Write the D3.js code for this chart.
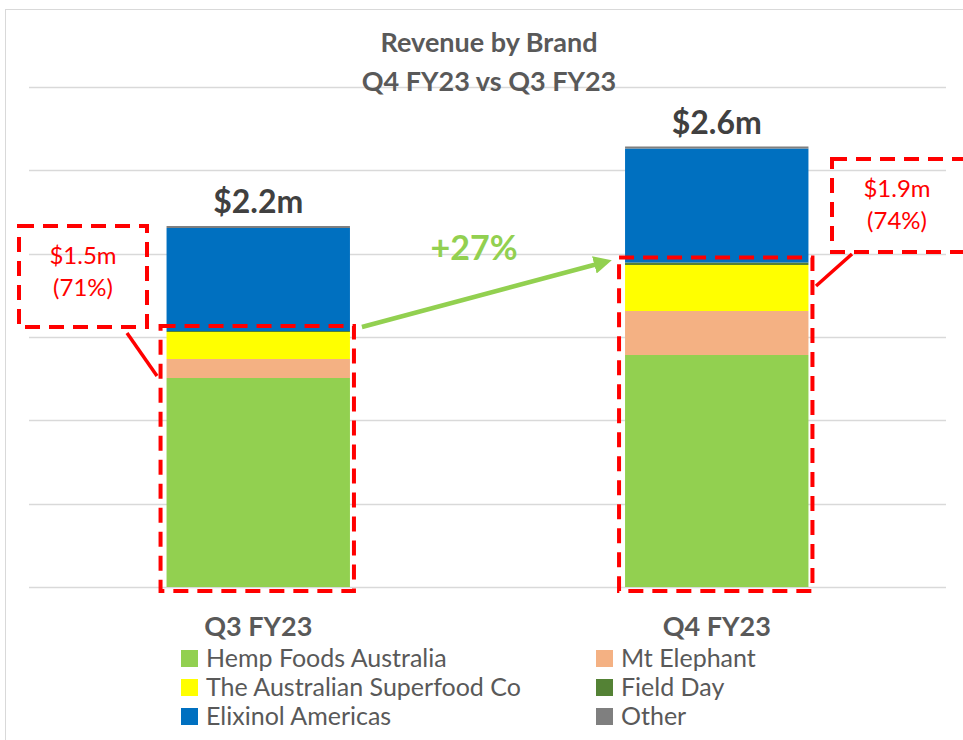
<!DOCTYPE html>
<html>
<head>
<meta charset="utf-8">
<script src="https://cdn.jsdelivr.net/npm/d3@7"></script>
<style>
  body { margin: 0; background: #fff; }
  svg { display: block; font-family: Lato, "Open Sans", sans-serif; }
</style>
</head>
<body>
<div id="chart"></div>
<script>
const width = 963;
const height = 740;

// data
const quarters = ["Q3 FY23", "Q4 FY23"];
const brands = ["Hemp Foods Australia", "Mt Elephant", "The Australian Superfood Co", "Field Day", "Elixinol Americas", "Other"];
const brandColors = ["#92D050", "#F4B183", "#FFFF00", "#548235", "#0070C0", "#7F7F7F"];
const hempFoods = [1.254, 1.392];
const mtElephant = [0.114, 0.264];
const superfood = [0.162, 0.276];
const fieldDay = [0.006, 0.015];
const elixinol = [0.618, 0.684];
const other = [0.012, 0.012];
const totalLabels = ["$2.2m", "$2.6m"];
const ausLabels = [["$1.5m", "(71%)"], ["$1.9m", "(74%)"]];
const growthLabel = "+27%";
const yTicks = [0, 0.5, 1, 1.5, 2, 2.5, 3];
const legendOrder = ["Hemp Foods Australia", "Mt Elephant", "The Australian Superfood Co", "Field Day", "Elixinol Americas", "Other"];

const rows = quarters.map((q, i) => ({
  quarter: q,
  "Hemp Foods Australia": hempFoods[i],
  "Mt Elephant": mtElephant[i],
  "The Australian Superfood Co": superfood[i],
  "Field Day": fieldDay[i],
  "Elixinol Americas": elixinol[i],
  "Other": other[i],
}));

const color = d3.scaleOrdinal().domain(brands).range(brandColors);

const x = d3.scaleBand().domain(quarters).range([29, 946]).paddingInner(0.6).paddingOuter(0.3);
const y = d3.scaleLinear().domain([0, 3]).range([587, 87]);

const svg = d3.select("#chart").append("svg")
  .attr("width", width)
  .attr("height", height);

// chart frame
svg.append("rect")
  .attr("x", 5.5).attr("y", 9.5)
  .attr("width", width + 10).attr("height", height + 10)
  .attr("fill", "none").attr("stroke", "#d9d9d9");

// gridlines
svg.append("g")
  .selectAll("line")
  .data(yTicks)
  .join("line")
  .attr("x1", 29).attr("x2", 946)
  .attr("y1", (d) => Math.round(y(d)) + 0.5)
  .attr("y2", (d) => Math.round(y(d)) + 0.5)
  .attr("stroke", "#d9d9d9")
  .attr("stroke-width", 1.3);

// title
const title = svg.append("text")
  .attr("text-anchor", "middle")
  .attr("fill", "#595959")
  .attr("font-weight", "bold")
  .attr("font-size", 27);
title.append("tspan").attr("x", 489).attr("y", 52).text("Revenue by Brand");
title.append("tspan").attr("x", 489).attr("y", 91).text("Q4 FY23 vs Q3 FY23");

// stacked bars
const series = d3.stack().keys(brands)(rows);

svg.append("g")
  .selectAll("g")
  .data(series)
  .join("g")
  .attr("fill", (d) => color(d.key))
  .selectAll("rect")
  .data((d) => d)
  .join("rect")
  .attr("x", (d) => x(d.data.quarter))
  .attr("y", (d) => y(d[1]))
  .attr("width", x.bandwidth())
  .attr("height", (d) => y(d[0]) - y(d[1]));

// total labels
const totals = rows.map((r) => d3.sum(brands, (b) => r[b]));
svg.append("g")
  .selectAll("text")
  .data(quarters)
  .join("text")
  .attr("x", (d) => x(d) + x.bandwidth() / 2)
  .attr("y", (d, i) => y(totals[i]) - 13)
  .attr("text-anchor", "middle")
  .attr("fill", "#404040")
  .attr("font-weight", "bold")
  .attr("font-size", 32)
  .text((d, i) => totalLabels[i]);

// category labels
svg.append("g")
  .selectAll("text")
  .data(quarters)
  .join("text")
  .attr("x", (d) => x(d) + x.bandwidth() / 2)
  .attr("y", 636)
  .attr("text-anchor", "middle")
  .attr("fill", "#595959")
  .attr("font-weight", "bold")
  .attr("font-size", 27)
  .text((d) => d);

// dashed highlight around the Australian brands
const ausKeys = ["Hemp Foods Australia", "Mt Elephant", "The Australian Superfood Co"];
const ausTotals = rows.map((r) => d3.sum(ausKeys, (b) => r[b]));
const dash = "15,9";
const red = "#FF0000";

const boxes = quarters.map((q, i) => ({
  x0: x(q) - 6,
  x1: x(q) + x.bandwidth() + 4,
  y0: y(ausTotals[i] + fieldDay[i]) - 5,
  y1: y(0) + 4,
}));

svg.append("g")
  .selectAll("rect")
  .data(boxes)
  .join("rect")
  .attr("x", (d) => d.x0)
  .attr("y", (d) => d.y0)
  .attr("width", (d) => d.x1 - d.x0)
  .attr("height", (d) => d.y1 - d.y0)
  .attr("fill", "none")
  .attr("stroke", red)
  .attr("stroke-width", 4)
  .attr("stroke-dasharray", dash);

// callout boxes
const callouts = [
  { bx: 19, by: 226, bw: 128, bh: 101, tx: 83, lx1: 127, ly1: 333, lx2: 157, ly2: 376 },
  { bx: 832, by: 159, bw: 140, bh: 93, tx: 897, lx1: 852, ly1: 254, lx2: 816, ly2: 286 },
];

const cg = svg.append("g");
callouts.forEach((c, i) => {
  cg.append("rect")
    .attr("x", c.bx).attr("y", c.by)
    .attr("width", c.bw).attr("height", c.bh)
    .attr("fill", "none")
    .attr("stroke", red)
    .attr("stroke-width", 4)
    .attr("stroke-dasharray", dash);
  cg.append("line")
    .attr("x1", c.lx1).attr("y1", c.ly1)
    .attr("x2", c.lx2).attr("y2", c.ly2)
    .attr("stroke", red)
    .attr("stroke-width", 3.5);
  const t = cg.append("text")
    .attr("text-anchor", "middle")
    .attr("fill", red)
    .attr("font-size", 24);
  t.append("tspan").attr("x", c.tx).attr("y", c.by + 38).text(ausLabels[i][0]);
  t.append("tspan").attr("x", c.tx).attr("y", c.by + 70).text(ausLabels[i][1]);
});

// growth arrow
const green = "#92D050";
svg.append("defs").append("marker")
  .attr("id", "arrowHead")
  .attr("viewBox", "0 0 10 10")
  .attr("refX", 5).attr("refY", 5)
  .attr("markerWidth", 4).attr("markerHeight", 4)
  .attr("orient", "auto")
  .append("path")
  .attr("d", "M0,0L10,5L0,10Z")
  .attr("fill", green);

svg.append("line")
  .attr("x1", boxes[0].x1 + 8).attr("y1", boxes[0].y0 + 1)
  .attr("x2", boxes[1].x0 - 16).attr("y2", boxes[1].y0 + 5)
  .attr("stroke", green)
  .attr("stroke-width", 4.5)
  .attr("marker-end", "url(#arrowHead)");

svg.append("text")
  .attr("x", 474).attr("y", 260)
  .attr("text-anchor", "middle")
  .attr("fill", green)
  .attr("font-weight", "bold")
  .attr("font-size", 34)
  .text(growthLabel);

// legend
const legend = svg.append("g")
  .selectAll("g")
  .data(legendOrder)
  .join("g")
  .attr("transform", (d, i) => `translate(${i % 2 === 0 ? 181 : 596},${650 + Math.floor(i / 2) * 29})`);

legend.append("rect")
  .attr("width", 17).attr("height", 17)
  .attr("fill", (d) => color(d));

legend.append("text")
  .attr("x", 25).attr("y", 17)
  .attr("fill", "#595959")
  .attr("font-size", 25)
  .text((d) => d);
</script>
</body>
</html>
